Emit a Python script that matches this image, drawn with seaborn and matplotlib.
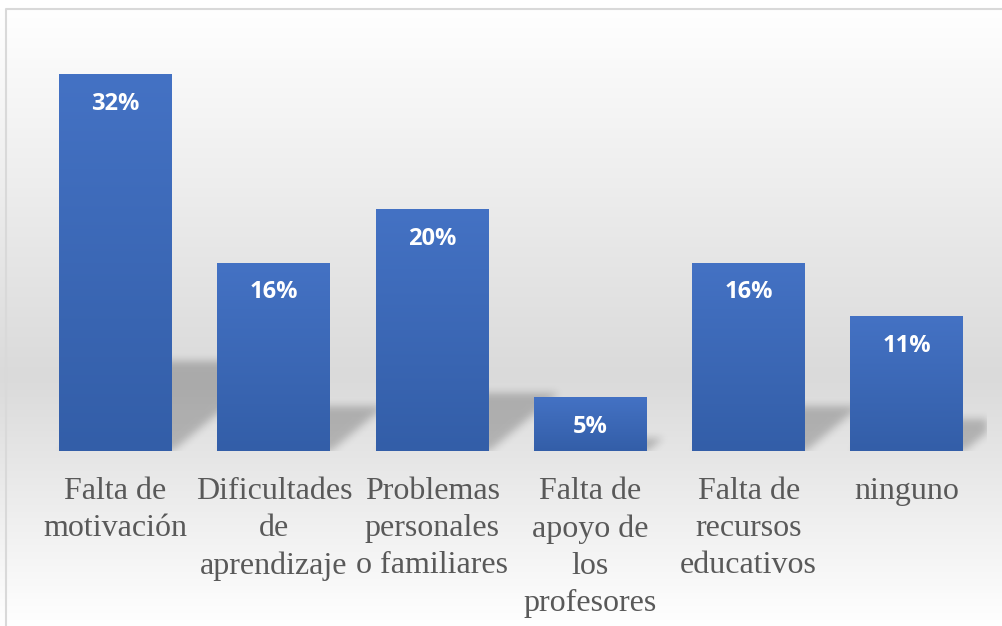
import numpy as np
import matplotlib
matplotlib.use("Agg")
import matplotlib.pyplot as plt
import seaborn as sns
from matplotlib.colors import LinearSegmentedColormap

# data (share of answers, %)
categories = ["Falta de\nmotivación", "Dificultades\nde\naprendizaje",
              "Problemas\npersonales\no familiares", "Falta de\napoyo de\nlos\nprofesores",
              "Falta de\nrecursos\neducativos", "ninguno"]
percentages = [31.82, 15.91, 20.45, 4.55, 15.91, 11.36]
value_labels = ["32%", "16%", "20%", "5%", "16%", "11%"]

sns.set_style("white")

W_PX, H_PX, DPI = 1002, 626, 100
fig = plt.figure(figsize=(W_PX / DPI, H_PX / DPI), dpi=DPI)

# chart-area background: white -> grey -> white vertical gradient
bg = fig.add_axes([0, 0, 1, 1], zorder=0)
rows = np.arange(H_PX)
shade = np.interp(rows, [8, 376, 626], [255, 218, 255]) / 255.0
grad = np.repeat(shade[:, None], 4, axis=1)
bg.imshow(np.dstack([grad, grad, grad]), extent=(0, W_PX, H_PX, 0), aspect="auto")
bg.plot([6.5, 6.5, W_PX + 5], [H_PX + 5, 8.5, 8.5], color="#d9d9d9", lw=1.5)
bg.set_xlim(0, W_PX)
bg.set_ylim(H_PX, 0)
bg.axis("off")

# main plotting area
ax_left, ax_right, base_y = 36.5, 986.0, 451.0
ymax = 35
px_per_y = 377 / percentages[0]
ax_h = ymax * px_per_y
ax = fig.add_axes([ax_left / W_PX, (H_PX - base_y) / H_PX,
                   (ax_right - ax_left) / W_PX, ax_h / H_PX], zorder=1)
ax.set_facecolor("none")

bar_w = 0.714
sns.barplot(x=categories, y=percentages, color="#4472c4", width=bar_w,
            saturation=1, ax=ax, zorder=2)
ax.set_xlim(-0.5, len(categories) - 0.5)
ax.set_ylim(0, ymax)

# soft perspective shadows behind the bars
gw, gh = int(round(ax_right - ax_left)), int(round(ax_h))
px_x = gw / len(categories)
xs = np.arange(gw) + 0.5
ys = np.arange(gh) + 0.5
XX, YY = np.meshgrid(xs, ys)
mask = np.zeros((gh, gw))
k = 1.2
for i, v in enumerate(percentages):
    x0 = (i + 0.5 - bar_w / 2) * px_x
    x1 = (i + 0.5 + bar_w / 2) * px_x
    hs = 0.24 * v * px_per_y
    inside = (YY < hs) & (XX >= x0 + k * YY) & (XX <= x1 + k * YY)
    mask[inside] = 1.0
sig = 4.0
kx = np.arange(-12, 13)
kern = np.exp(-kx ** 2 / (2 * sig ** 2))
kern /= kern.sum()
blur = np.apply_along_axis(lambda r: np.convolve(r, kern, mode="same"), 1, mask)
blur = np.apply_along_axis(lambda c: np.convolve(c, kern, mode="same"), 0, blur)
shadow = np.zeros((gh, gw, 4))
shadow[..., 3] = 0.22 * blur
ax.imshow(shadow, extent=(-0.5, len(categories) - 0.5, 0, gh / px_per_y),
          origin="lower", aspect="auto", zorder=1)
ax.set_xlim(-0.5, len(categories) - 0.5)
ax.set_ylim(0, ymax)

# vertical gradient fill on each bar
bar_cmap = LinearSegmentedColormap.from_list("bar", ["#335ea8", "#4472c4"])
for p in ax.patches:
    x, y = p.get_x(), p.get_y()
    w, h = p.get_width(), p.get_height()
    g = np.linspace(0, 1, 256).reshape(-1, 1)
    im = ax.imshow(g, cmap=bar_cmap, extent=(x, x + w, y, y + h), origin="lower",
                   aspect="auto", zorder=3)
    im.set_clip_path(p)
    p.set_edgecolor("none")

# value labels inside the bars
for i, (v, lab) in enumerate(zip(percentages, value_labels)):
    ax.annotate(lab, (i, v), xytext=(0, -21.5), textcoords="offset points",
                ha="center", va="center", color="white", fontsize=17,
                fontweight="bold", family=["Open Sans", "DejaVu Sans"], zorder=4)

ax.set_xticks(range(len(categories)))
ax.set_xticklabels(categories, family=["Liberation Serif", "DejaVu Serif"],
                   fontsize=23, color="#595959", linespacing=1.37)
ax.tick_params(axis="x", length=0, pad=18.5)
ax.set_yticks([])
ax.set_xlabel("")
ax.set_ylabel("")
for s in ax.spines.values():
    s.set_visible(False)

fig.savefig("out.png", dpi=DPI)
